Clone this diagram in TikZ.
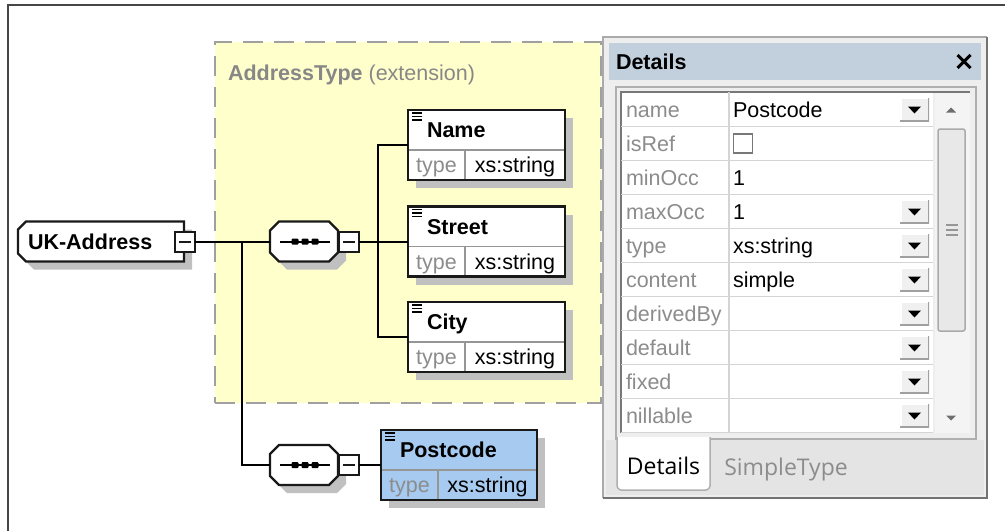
\documentclass[tikz,border=0pt]{standalone}
\usepackage{fontspec}
\setmainfont{Liberation Sans}
\newfontfamily\tabfont{Open Sans}
\usetikzlibrary{calc}
\definecolor{framec}{RGB}{70,70,70}
\definecolor{yel}{RGB}{255,255,204}
\definecolor{dashg}{RGB}{160,160,160}
\definecolor{shadowc}{RGB}{192,192,192}
\definecolor{pcblue}{RGB}{166,202,240}
\definecolor{sepc}{RGB}{150,150,150}
\definecolor{lblc}{RGB}{140,140,140}
\definecolor{titlec}{RGB}{135,135,135}
\definecolor{panelbg}{RGB}{238,238,238}
\definecolor{hdrc}{RGB}{194,208,222}
\definecolor{gridc}{RGB}{212,212,212}
\definecolor{stripc}{RGB}{228,228,228}
\definecolor{pbord}{RGB}{170,170,170}
\definecolor{pbordd}{RGB}{115,115,115}
\definecolor{gframe}{RGB}{175,175,175}
\definecolor{innerdark}{RGB}{120,120,120}
\definecolor{sbtrack}{RGB}{244,244,244}
\definecolor{thumbf}{RGB}{232,232,232}
\definecolor{thumbb}{RGB}{170,170,170}
\definecolor{btnface}{RGB}{240,240,240}
\definecolor{btnshadow}{RGB}{160,160,160}
\definecolor{arrowc}{RGB}{110,110,110}
\definecolor{chkc}{RGB}{120,120,120}
\definecolor{elbord}{RGB}{25,25,25}
% octagon outline round a node, shifted by (#2,#3)
\newcommand{\octo}[3]{($(#1.north west)+(9+#2,#3)$) -- ($(#1.north east)+(-9+#2,#3)$) -- ($(#1.north east)+(#2,9+#3)$) -- ($(#1.south east)+(#2,-9+#3)$) -- ($(#1.south east)+(-9+#2,#3)$) -- ($(#1.south west)+(9+#2,#3)$) -- ($(#1.south west)+(#2,-9+#3)$) -- ($(#1.north west)+(#2,9+#3)$) -- cycle}
% outline with the two left corners cut
\newcommand{\lcham}[3]{($(#1.north west)+(8+#2,#3)$) -- ($(#1.north east)+(#2,#3)$) -- ($(#1.south east)+(#2,#3)$) -- ($(#1.south west)+(8+#2,#3)$) -- ($(#1.south west)+(#2,-8+#3)$) -- ($(#1.north west)+(#2,8+#3)$) -- cycle}
\newcommand{\xsdelem}[6]{%
  \node[elbox, fill=#6, minimum width=#4pt, anchor=north west] (#1) at (#2,#3) {};
  \node[txt, text=lblc, minimum width=57pt, minimum height=30pt, anchor=south west] (#1t) at (#1.south west) {type};
  \node[txt] (#1v) at ($(#1t.east)!0.5!(#1t.east -| #1.east)$) {xs:string};
  \draw[sepline] (#1t.north west) -- (#1t.north west -| #1.east);
  \draw[sepline] (#1t.north east) -- (#1t.south east);
  \node[bold, anchor=west] (#1l) at ($(#1.north west)+(19,20)$) {#5};
  \foreach \k in {3,6.5,10} \draw[iconline] ($(#1.north west)+(4,\k)$) -- ++(10,0);
  \draw[elborder] (#1.north west) rectangle (#1.south east);
}
\newcommand{\seqdots}[1]{%
  \draw[line width=2pt] ($(#1.center)+(-24,0)$) -- ($(#1.center)+(26,0)$);
  \foreach \dx in {-9,1,11} \fill[rounded corners=1pt] ($(#1.center)+(\dx-3.5,-3)$) rectangle ($(#1.center)+(\dx+3.5,3)$);
}
\begin{document}
\begin{tikzpicture}[x=1pt,y=-1pt,
  every node/.style={inner sep=0pt, outer sep=0pt},
  txt/.style={font=\fontsize{21.5}{24}\selectfont, text height=15.4pt, text depth=0pt},
  bold/.style={txt, font=\fontsize{21.5}{24}\selectfont\bfseries},
  tabtxt/.style={font=\tabfont\fontsize{23}{26}\selectfont, text height=16.4pt, text depth=0pt},
  conn/.style={line width=2pt, black},
  shapeline/.style={draw=elbord, line width=2.2pt, fill=white, line join=miter},
  elbox/.style={minimum height=70pt, preaction={fill=shadowc, transform canvas={shift={(8pt,-8pt)}}}},
  sepline/.style={draw=sepc, line width=1.8pt},
  elborder/.style={draw=elbord, line width=2.2pt},
  iconline/.style={line width=1.4pt, black},
  minusbox/.style={draw=elbord, line width=2pt, fill=white, minimum size=20pt,
     path picture={\draw[line width=2pt, elbord] ($(path picture bounding box.west)+(4,0)$) -- ($(path picture bounding box.east)+(-4,0)$);}},
  ddbtn/.style={fill=btnface, minimum width=29pt, minimum height=24pt,
     path picture={
       \draw[white, line width=3pt] (path picture bounding box.south west) -- (path picture bounding box.north west) -- (path picture bounding box.north east);
       \draw[btnshadow, line width=3pt] (path picture bounding box.south west) -- (path picture bounding box.south east) -- (path picture bounding box.north east);
       \fill[black] (path picture bounding box.center) ++(-6.5,-3) -- ++(13,0) -- ++(-6.5,7) -- cycle;
     }},
  gridline/.style={draw=gridc, line width=1.8pt}
]
\useasboundingbox (0,0) rectangle (1005,531);
\fill[white] (0,0) rectangle (1005,531);
% outer frame
\draw[draw=framec, line width=2.5pt] (8,531) -- (8,5) -- (1005,5);

% AddressType extension box
\node[fill=yel, draw=dashg, line width=2pt, dash pattern=on 20pt off 11pt,
      minimum width=386pt, minimum height=361pt, anchor=north west] (addrtype) at (215,42) {};
\node[txt, text=titlec, anchor=west] (addrlabel) at (228,73) {\bfseries AddressType \mdseries(extension)};

% UK-Address
\node[minimum width=166pt, minimum height=40pt] (uk) at (101,241.5) {};
\fill[shadowc] \lcham{uk}{8}{8};
\draw[shapeline] \lcham{uk}{0}{0};
\node[bold, anchor=west] (uktext) at ($(uk.west)+(10,0)$) {UK-Address};
\node[minusbox] (ukbox) at (184.5,241.5) {};

% sequences
\node[minimum width=68pt, minimum height=40pt] (seq1) at (304,241.5) {};
\fill[shadowc] \octo{seq1}{8}{8};
\draw[shapeline] \octo{seq1}{0}{0};
\seqdots{seq1}
\node[minusbox] (seq1box) at (349,241.5) {};
\node[minimum width=68pt, minimum height=40pt] (seq2) at (304,465) {};
\fill[shadowc] \octo{seq2}{8}{8};
\draw[shapeline] \octo{seq2}{0}{0};
\seqdots{seq2}
\node[minusbox] (seq2box) at (349,465) {};

% elements
\xsdelem{name}{408}{110}{157}{Name}{white}
\xsdelem{street}{408}{206.5}{157}{Street}{white}
\xsdelem{city}{408}{302}{157}{City}{white}
\xsdelem{postcode}{381}{430}{156}{Postcode}{pcblue}

% connectors
\coordinate (j1) at (242,241.5);
\coordinate (j2) at (378,241.5);
\draw[conn] (ukbox.east) -- (seq1.west);
\draw[conn] (j1) |- (seq2.west);
\draw[conn] (seq1box.east) -- (street.west);
\draw[conn] (name.west) -| (j2) |- (city.west);
\draw[conn] (seq2box.east) -- (postcode.west);

% Details panel
\node[fill=panelbg, minimum width=384pt, minimum height=461pt, anchor=north west] (panel) at (603,37) {};
\node[fill=hdrc, minimum width=372pt, minimum height=37pt, anchor=north west] (hdr) at (609,43) {};
\node[bold, anchor=west] (hdrtitle) at ($(hdr.west)+(7,0)$) {Details};
\node[minimum size=13pt] (close) at ($(hdr.east)+(-17,0)$) {};
\draw[line width=3pt, black] (close.north west) -- (close.south east) (close.south west) -- (close.north east);
\node[fill=stripc, minimum width=378pt, minimum height=55pt, anchor=north west] (strip) at (606,440) {};
\node[draw=gframe, line width=2pt, fill=panelbg, minimum width=360pt, minimum height=352pt, anchor=north west] (grp) at (616,87) {};
\node[fill=white, minimum width=312pt, minimum height=341pt, anchor=north west] (tbl) at (621,92) {};
\node[fill=sbtrack, minimum width=35pt, minimum height=341pt, anchor=north west] (sb) at (935,92) {};
\draw[draw=innerdark, line width=1.8pt] (tbl.south west) -- (tbl.north west) -- (sb.north east);
\draw[gridline] (729,92) -- (729,433);
\foreach \lab/\val/\dd [count=\i from 0] in {name/Postcode/1,isRef//0,minOcc/1/0,maxOcc/1/1,type/xs:string/1,content/simple/1,derivedBy//1,default//1,fixed//1,nillable//1}{
  \pgfmathsetmacro{\cy}{109.5+34*\i}
  \node[txt, text=lblc, anchor=west] (lab\i) at (626,\cy) {\lab};
  \node[txt, anchor=west] (val\i) at (733,\cy) {\val};
  \ifnum\dd=1 \node[ddbtn] (dd\i) at (914.5,\cy) {};\fi
  \draw[gridline] (621,\cy+17) -- (933,\cy+17);
}
\node[draw=chkc, line width=1.8pt, fill=white, minimum size=19pt] (chk) at (743,143.5) {};
% scrollbar
\node[draw=thumbb, fill=thumbf, line width=1.5pt, rounded corners=2pt, minimum width=27pt, minimum height=202pt, anchor=north west] (thumb) at (938,129) {};
\foreach \k in {-5,0,5} \draw[draw=sepc, line width=1.5pt] ($(thumb.center)+(-6,\k)$) -- ++(12,0);
\node (sbup) at (951,110) {};
\fill[arrowc] (sbup) ++(-5,2.5) -- ++(10,0) -- ++(-5,-5) -- cycle;
\node (sbdown) at (951,418) {};
\fill[arrowc] (sbdown) ++(-5,-2.5) -- ++(10,0) -- ++(-5,5) -- cycle;
% tabs
\node[fill=white, minimum width=93pt, minimum height=53pt, anchor=north west] (tab1) at (617,437) {};
\draw[draw=gframe, line width=1.5pt, rounded corners=4pt] (tab1.north west) -- (tab1.south west) -- (tab1.south east) -- (tab1.north east);
\node[tabtxt] (tab1txt) at ($(tab1.center)+(0,3)$) {Details};
\node[tabtxt, text=lblc] (tab2txt) at (786,467) {SimpleType};
% panel border
\draw[draw=pbord, line width=2pt] (panel.south west) -- (panel.north west) -- (panel.north east);
\draw[draw=pbordd, line width=2.5pt] (panel.north east) -- (panel.south east) -- (panel.south west);
\end{tikzpicture}
\end{document}
